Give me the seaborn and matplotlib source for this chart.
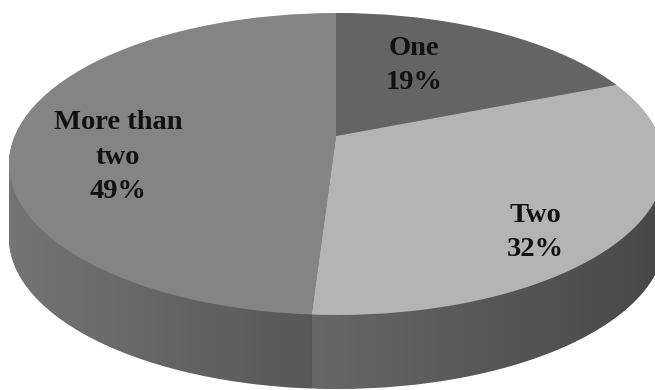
import matplotlib
matplotlib.use("Agg")
import matplotlib.pyplot as plt
from matplotlib.patches import Ellipse, PathPatch
from matplotlib.path import Path
import seaborn as sns
import numpy as np

# ---- data ----
categories = ["One", "Two", "More than\ntwo"]
values = [19, 32, 49]
pct_labels = ["19%", "32%", "49%"]

# ---- style ----
top_colors = ["#646464", "#b4b4b4", "#848484"]
side_colors = ["#4c4c4c", "#6a6a6a", "#747474"]

sns.set_theme(style="white")
plt.rcParams["font.family"] = ["Liberation Serif", "DejaVu Serif"]

W, H = 655, 390
fig = plt.figure(figsize=(W / 100, H / 100), dpi=100)
ax = fig.add_axes([0, 0, 1, 1])

# ellipse geometry in pixels
cx, cy = 337, 164      # centre of top face
a, b = 328, 151        # semi-axes
depth = 74             # thickness of the pie
apex_px = (336, 136)   # perspective apex of the slices


def px(x, y):
    return (x - cx) / a, (cy - y) / b


vx, vy = px(*apex_px)
d = depth / b


def clipped_pie(colors, t):
    wedges, _ = ax.pie(values, colors=colors, startangle=90, counterclock=False,
                       radius=1.5, center=(vx, vy - t),
                       wedgeprops=dict(linewidth=0, antialiased=True))
    clip = Ellipse((0, -t), 2, 2, transform=ax.transData)
    for w in wedges:
        w.set_clip_on(True)
        w.set_clip_path(clip)
    return wedges


for t in np.linspace(d, 0, 100)[:-1]:
    clipped_pie(side_colors, t)
top_wedges = clipped_pie(top_colors, 0)

# shading of the visible side wall
ang = np.linspace(np.pi, 2 * np.pi, 200)
verts = np.concatenate([np.c_[np.cos(ang), np.sin(ang)],
                        np.c_[np.cos(ang[::-1]), np.sin(ang[::-1]) - d],
                        [[np.cos(np.pi), np.sin(np.pi)]]])
codes = [Path.MOVETO] + [Path.LINETO] * (len(verts) - 2) + [Path.CLOSEPOLY]
side_patch = PathPatch(Path(verts, codes), transform=ax.transData,
                       facecolor="none", edgecolor="none")

# x of boundary between "Two" and "More than two" on the rim
theta = np.deg2rad(min(top_wedges[1].theta1, top_wedges[1].theta2))
u = np.array([np.cos(theta), np.sin(theta)])
v = np.array([vx, vy])
s = -(v @ u) + np.sqrt((v @ u) ** 2 - (v @ v - 1))
xb = vx + s * u[0]


def shade(x0, x1, a0, a1):
    n = 256
    img = np.zeros((1, n, 4))
    img[..., 3] = np.linspace(a0, a1, n)
    im = ax.imshow(img, extent=[x0, x1, -1 - d - 0.05, 0.05], aspect="auto",
                   interpolation="bilinear", zorder=3)
    im.set_clip_on(True)
    im.set_clip_path(side_patch)


shade(-1.0, xb, 0.0, 0.25)
shade(xb, 1.0, 0.03, 0.33)

ax.set_aspect("auto")
ax.set_xlim(px(0, 0)[0], px(W, 0)[0])
ax.set_ylim(px(0, H)[1], px(0, 0)[1])
ax.axis("off")

# labels (one text per line, 34.5 px apart)
label_centres = [(414, 65.5), (535, 232.5), (118, 157)]
for cat, pct, (x, yc) in zip(categories, pct_labels, label_centres):
    lines = cat.split("\n") + [pct]
    n = len(lines)
    for i, line in enumerate(lines):
        tx, ty = px(x, yc + (i - (n - 1) / 2) * 34.5)
        ax.text(tx, ty, line, ha="center", va="center", fontsize=20.5,
                fontweight="bold", color="#111111", zorder=5)

fig.savefig("out.png", dpi=100, facecolor="white")
